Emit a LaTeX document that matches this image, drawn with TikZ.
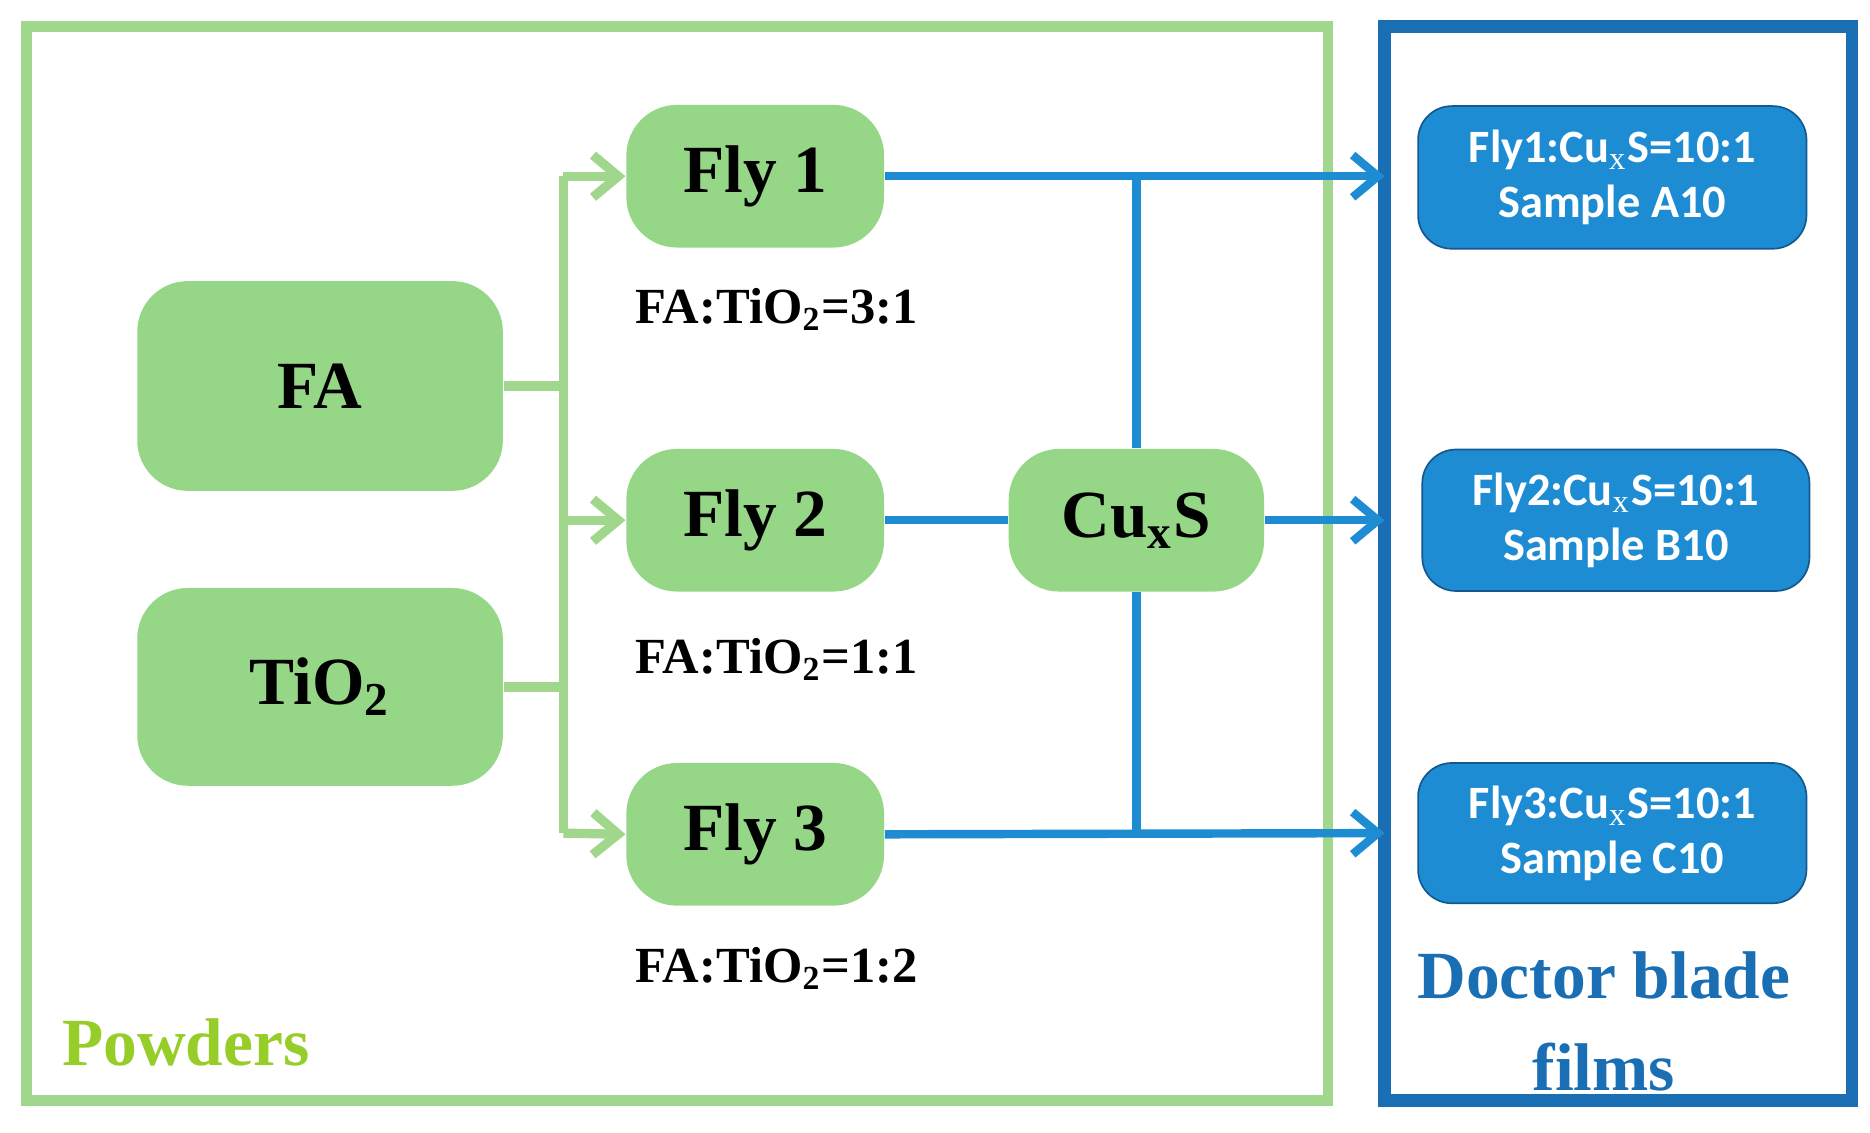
\documentclass[tikz,border=0pt]{standalone}
\usepackage{fontspec}
\setmainfont{Liberation Serif}
\newfontfamily\carl{Carlito}
\usetikzlibrary{arrows.meta}
\definecolor{lg}{RGB}{150,215,135}
\definecolor{lgl}{RGB}{160,215,140}
\definecolor{pw}{RGB}{150,205,40}
\definecolor{db}{RGB}{25,110,180}
\definecolor{bf}{RGB}{30,140,210}
\begin{document}
\begin{tikzpicture}[x=0.01cm,y=-0.01cm,
 gbox/.style={draw=none,fill=lg,rounded corners=12pt,font=\fontsize{16}{18}\selectfont\bfseries},
 bbox/.style={draw=db!80!black,fill=bf,rounded corners=8pt,text=white,align=center,font=\carl\fontsize{11}{13}\selectfont\bfseries},
 lab/.style={font=\fontsize{12}{14}\selectfont\bfseries},
 gl/.style={draw=lgl,line width=2.2pt},
 bl/.style={draw=bf,line width=2pt},
 ga/.style={gl,-{Straight Barb[length=6pt,width=10pt]}},
 ba/.style={bl,-{Straight Barb[length=6pt,width=10pt]}}]
\useasboundingbox (0,0) rectangle (1560,945);
\node[draw=lgl,line width=2.5pt,minimum width=1086*0.01cm,minimum height=896*0.01cm] (pow) at (565,470) {};
\node[draw=db,line width=3pt,minimum width=390*0.01cm,minimum height=896*0.01cm] (doc) at (1350,470) {};
\node[gbox,minimum width=305*0.01cm,minimum height=175*0.01cm] (fa) at (267,322) {FA};
\node[gbox,minimum width=305*0.01cm,minimum height=165*0.01cm] (ti) at (267,573) {TiO$_\mathbf{2}$};
\node[gbox,minimum width=215*0.01cm,minimum height=119*0.01cm] (f1) at (630,147) {Fly 1};
\node[gbox,minimum width=215*0.01cm,minimum height=119*0.01cm] (f2) at (630,434) {Fly 2};
\node[gbox,minimum width=215*0.01cm,minimum height=119*0.01cm] (f3) at (630,696) {Fly 3};
\node[gbox,minimum width=213*0.01cm,minimum height=119*0.01cm] (cu) at (948,434) {Cu$_\mathbf{x}$S};
\node[lab] (l1) at (648,258) {FA:TiO$_\mathbf{2}$=3:1};
\node[lab] (l2) at (648,550) {FA:TiO$_\mathbf{2}$=1:1};
\node[lab] (l3) at (648,808) {FA:TiO$_\mathbf{2}$=1:2};
\node[bbox,minimum width=324*0.01cm,minimum height=119*0.01cm] (s1) at (1345,148) {Fly1:Cu$_\mathrm{x}$S=10:1\\Sample A10};
\node[bbox,minimum width=323*0.01cm,minimum height=118*0.01cm] (s2) at (1348,434) {Fly2:Cu$_\mathrm{x}$S=10:1\\Sample B10};
\node[bbox,minimum width=324*0.01cm,minimum height=117*0.01cm] (s3) at (1345,695) {Fly3:Cu$_\mathrm{x}$S=10:1\\Sample C10};
\node[text=db,align=center,font=\fontsize{16}{22}\selectfont\bfseries] (dt) at (1338,852) {Doctor blade\\films};
\node[text=pw,font=\fontsize{16}{18}\selectfont\bfseries] (pt) at (155,870) {Powders};
\coordinate (j) at (470,147);
\coordinate (k) at (470,695);
\draw[gl] (fa.east) -- (fa.east-|j);
\draw[gl] (ti.east) -- (ti.east-|j);
\draw[gl] (j) -- (k);
\draw[ga] (j) -- (f1.west);
\draw[ga] (f2.west-|j) -- (f2.west);
\draw[ga] (k) -- (f3.west);
\coordinate (t1) at (1155,147);
\coordinate (t2) at (1155,434);
\coordinate (t3) at (1155,695);
\draw[ba] (f1.east) -- (t1);
\draw[ba] (f3.east) -- (t3);
\draw[bl] (f2.east) -- (cu.west);
\draw[ba] (cu.east) -- (t2);
\draw[bl] (cu.north) -- (cu.north|-f1.east);
\draw[bl] (cu.south) -- (cu.south|-f3.east);
\end{tikzpicture}
\end{document}
